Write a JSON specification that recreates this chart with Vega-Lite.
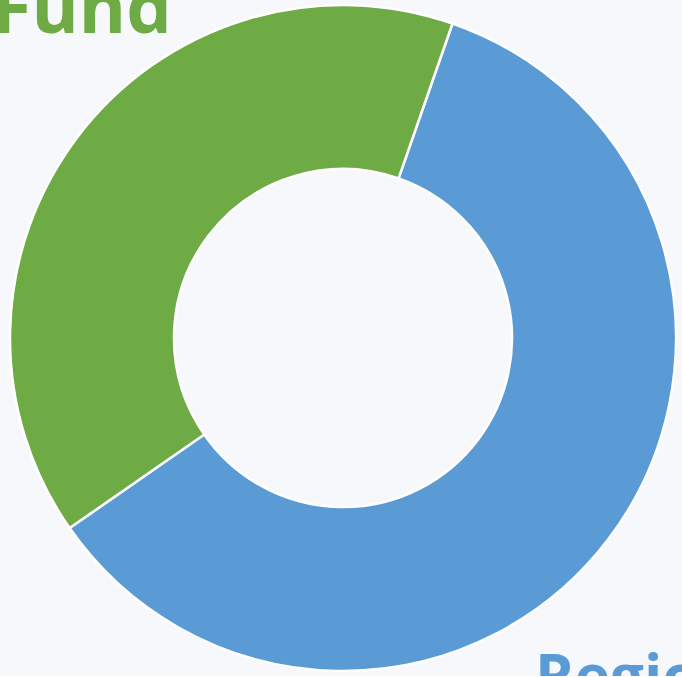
{
  "$schema": "https://vega.github.io/schema/vega-lite/v6.json",
  "width": 686,
  "height": 676,
  "autosize": "none",
  "padding": 0,
  "background": "#f7f8fb",
  "view": {"stroke": null},
  "title": {
    "text": "Fund",
    "anchor": "start",
    "frame": "group",
    "orient": "top",
    "offset": 0,
    "dy": 105,
    "dx": -8,
    "baseline": "alphabetic",
    "font": "Open Sans",
    "fontWeight": "bold",
    "fontSize": 72,
    "color": "#6fab45"
  },
  "layer": [
    {
      "data": {
        "values": [
          {"segment": "A", "value": 60, "order": 1},
          {"segment": "B", "value": 40, "order": 2}
        ]
      },
      "mark": {"type": "arc", "radius": 333, "radius2": 169, "stroke": "#ffffff", "strokeWidth": 2.5},
      "encoding": {
        "theta": {"field": "value", "type": "quantitative", "stack": true, "scale": {"range": [0.335, 6.6182]}},
        "order": {"field": "order", "type": "ordinal"},
        "color": {
          "field": "segment",
          "type": "nominal",
          "legend": null,
          "scale": {"domain": ["A", "B"], "range": ["#5b9bd5", "#6fab45"]}
        }
      }
    },
    {
      "data": {"values": [{"label": "Region"}]},
      "mark": {
        "type": "text",
        "align": "left",
        "baseline": "alphabetic",
        "font": "Open Sans",
        "fontWeight": "bold",
        "fontSize": 60,
        "color": "#5b9bd5"
      },
      "encoding": {
        "text": {"field": "label", "type": "nominal"},
        "x": {"value": 535},
        "y": {"value": 698}
      }
    }
  ]
}
